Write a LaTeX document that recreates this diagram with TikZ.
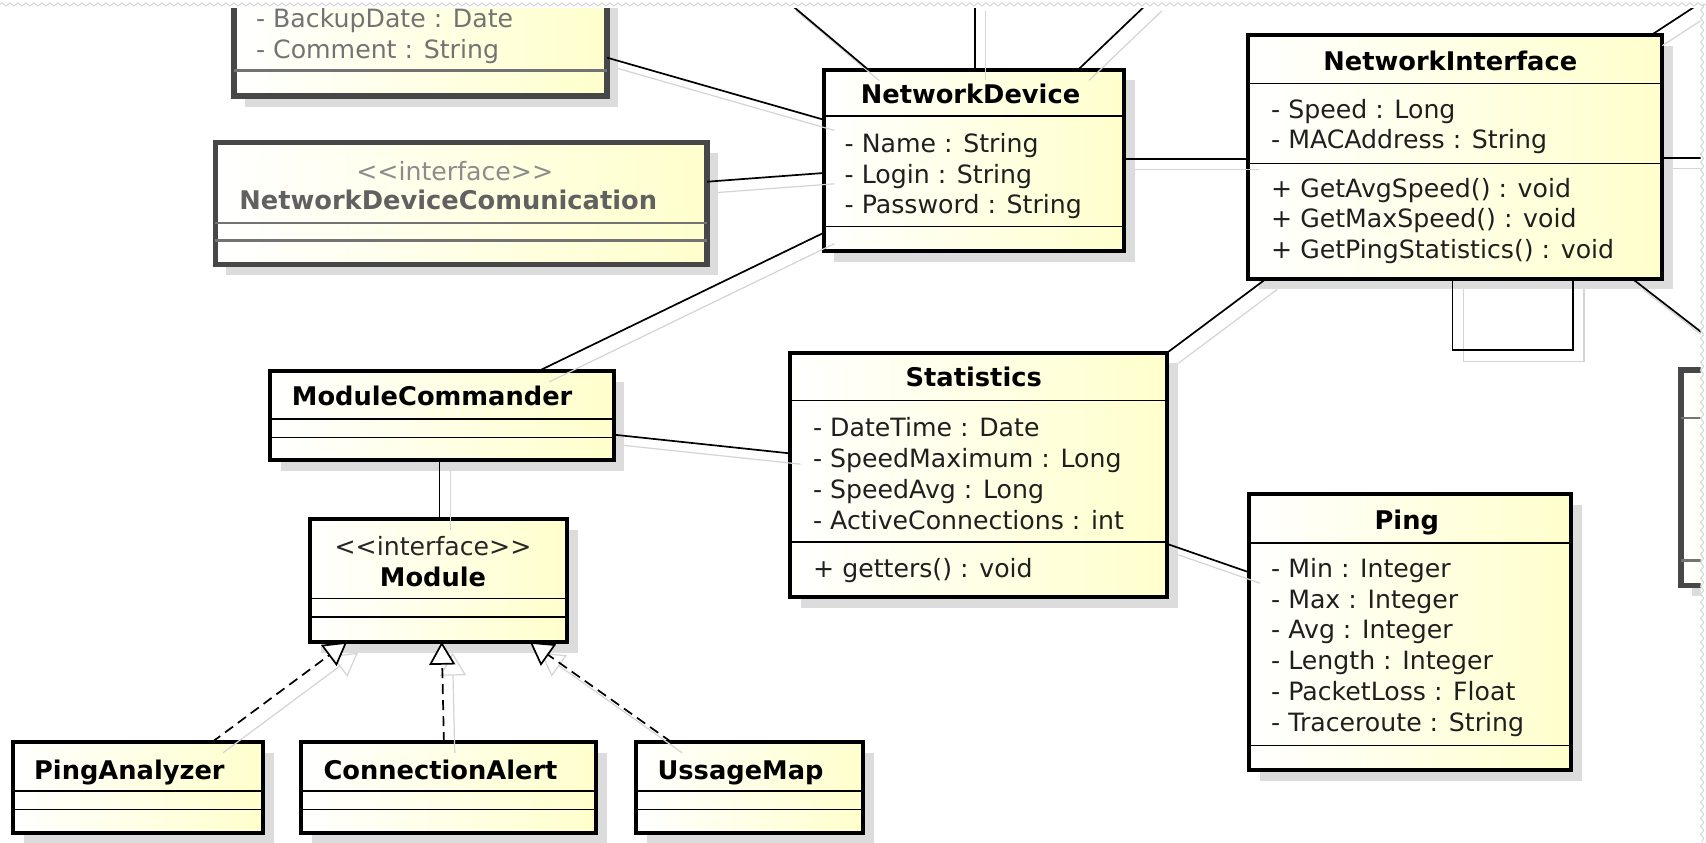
\documentclass[tikz,border=0pt]{standalone}
\usepackage{fontspec}
\setmainfont{DejaVu Sans}
\usetikzlibrary{arrows.meta,fit,shadows,decorations.pathmorphing}
\definecolor{boxyel}{RGB}{255,255,204}
\definecolor{boxshad}{RGB}{220,220,220}
\definecolor{linshad}{RGB}{212,212,212}
\definecolor{tornedge}{RGB}{214,214,214}
\newcommand{\bodyfont}{\fontsize{12.6}{15}\selectfont}
\newcommand{\titfont}{\bfseries\fontsize{12.85}{15}\selectfont}
\tikzset{
  umlbox/.style={draw=black, line width=2pt, inner sep=0pt, outer sep=0pt,
     left color=white, right color=boxyel,
     drop shadow={shadow xshift=5.4pt, shadow yshift=-5.4pt, fill=boxshad, opacity=1}},
  blurbox/.style={umlbox, draw=black!72, line width=2.8pt},
  sepline/.style={line width=0.7pt, draw=black},
  blursep/.style={line width=1.3pt, draw=black!55},
  attr/.style={anchor=base west, inner sep=0pt, font=\bodyfont, text=black!88},
  ttl/.style={anchor=base, inner sep=0pt, font=\titfont},
  ttlleft/.style={anchor=base west, inner sep=0pt, font=\titfont},
  stereo/.style={anchor=base, inner sep=0pt, font=\bodyfont, text=black!85},
  blurtxt/.style={text=black!55},
  assoc/.style={draw=black, line width=0.85pt},
  realize/.style={draw=black, line width=0.85pt, dash pattern=on 5pt off 3pt,
     -{Triangle[length=11.4pt, width=13pt, fill=white]}},
  shadowline/.style={draw=linshad, line width=0.6pt, solid,
     transform canvas={xshift=5.4pt, yshift=-5.4pt}},
}
\newcommand{\conn}[2]{\draw[#1,shadowline] #2; \draw[#1] #2;}
\newcommand{\hsep}[3][sepline]{\draw[#1] (#2.west |- 0,#3) -- (#2.east |- 0,#3);}
\begin{document}
\begin{tikzpicture}[x=0.544pt, y=-0.544pt]
\useasboundingbox (0,0) rectangle (1568,774);
\fill[white] (0,0) rectangle (1568,774);
\begin{scope}
\clip (0,7.5) rectangle (1563,774);

% ---------- boxes ----------
\node[blurbox, fit={(215,-40) (558,88)}] (bk) {};
\node[blurbox, fit={(198,131) (650,243)}] (ndc) {};
\node[umlbox, fit={(757,64) (1033,231)}] (nd) {};
\node[umlbox, fit={(1147,32) (1528,256)}] (ni) {};
\node[umlbox, fit={(726,324) (1073,549)}] (st) {};
\node[umlbox, fit={(1148,454) (1444,708)}] (pi) {};
\node[umlbox, fit={(248,341) (564,423)}] (mc) {};
\node[umlbox, fit={(285,477) (521,590)}] (mo) {};
\node[umlbox, fit={(12,682) (242,766)}] (pa) {};
\node[umlbox, fit={(277,682) (548,766)}] (ca) {};
\node[umlbox, fit={(585,682) (793,766)}] (um) {};
\node[blurbox, fit={(1545,340) (1660,538)}] (rc) {};

% ---------- compartment lines ----------
\hsep[blursep]{bk}{65}
\hsep[blursep]{ndc}{205}
\hsep[blursep]{ndc}{221}
\hsep{nd}{106.5}
\hsep{nd}{208}
\hsep{ni}{77}
\hsep{ni}{150}
\hsep{st}{368}
\hsep{st}{498}
\hsep{pi}{499}
\hsep{pi}{685}
\hsep{mc}{385}
\hsep{mc}{402}
\hsep{mo}{550}
\hsep{mo}{567}
\hsep{pa}{727}
\hsep{pa}{744}
\hsep{ca}{727}
\hsep{ca}{744}
\hsep{um}{727}
\hsep{um}{744}
\hsep[blursep]{rc}{384}
\hsep[blursep]{rc}{515}

% ---------- texts ----------
\node[attr, blurtxt] (bk1) at (235,25.5) {- BackupDate : Date};
\node[attr, blurtxt] (bk2) at (235,53.5) {- Comment : String};

\node[stereo, text=black!45] (ndcs) at (418,166) {<\kern0pt<interface>\kern0pt>};
\node[ttl, text=black!62] (ndct) at (412,192.5) {NetworkDeviceComunication};

\node[ttl] (ndt) at (892,95.5) {NetworkDevice};
\node[attr] (nd1) at (776,140.5) {- Name : String};
\node[attr] (nd2) at (776,168.5) {- Login : String};
\node[attr] (nd3) at (776,196.5) {- Password : String};

\node[ttl] (nit) at (1333,64.5) {NetworkInterface};
\node[attr] (ni1) at (1168,108.5) {- Speed : Long};
\node[attr] (ni2) at (1168,136.5) {- MACAddress : String};
\node[attr] (ni3) at (1168,181.5) {+ GetAvgSpeed() : void};
\node[attr] (ni4) at (1168,209.5) {+ GetMaxSpeed() : void};
\node[attr] (ni5) at (1168,237.5) {+ GetPingStatistics() : void};

\node[ttl] (stt) at (895,355.5) {Statistics};
\node[attr] (st1) at (747,401.5) {- DateTime : Date};
\node[attr] (st2) at (747,429.9) {- SpeedMaximum : Long};
\node[attr] (st3) at (747,458.3) {- SpeedAvg : Long};
\node[attr] (st4) at (747,486.7) {- ActiveConnections : int};
\node[attr] (st5) at (747,530.5) {+ getters() : void};

\node[ttl] (pit) at (1293,486.5) {Ping};
\node[attr] (pi1) at (1168,530.5) {- Min : Integer};
\node[attr] (pi2) at (1168,558.9) {- Max : Integer};
\node[attr] (pi3) at (1168,587.3) {- Avg : Integer};
\node[attr] (pi4) at (1168,615.7) {- Length : Integer};
\node[attr] (pi5) at (1168,644.1) {- PacketLoss : Float};
\node[attr] (pi6) at (1168,672.5) {- Traceroute : String};

\node[ttlleft] (mct) at (268,372.5) {ModuleCommander};
\node[stereo] (mos) at (398,511) {<\kern0pt<interface>\kern0pt>};
\node[ttl] (mot) at (398,539) {Module};
\node[ttlleft] (pat) at (31,716) {PingAnalyzer};
\node[ttlleft] (cat) at (297,716) {ConnectionAlert};
\node[ttlleft] (umt) at (604,716) {UssageMap};

% ---------- free ends ----------
\coordinate (top1) at (722,0);
\coordinate (top2) at (896,0);
\coordinate (top3) at (1058,0);
\coordinate (topr) at (1567,0);
\coordinate (rightni) at (1575,145);
\coordinate (rightlow) at (1575,314);

% ---------- connectors ----------
\conn{assoc}{(bk.east |- 0,53) -- (nd.west |- 0,110)}
\conn{assoc}{(ndc.east |- 0,167) -- (nd.west |- 0,159)}
\conn{assoc}{(nd.west |- 0,214) -- (495,0 |- mc.north)}
\conn{assoc}{(798,0 |- nd.north) -- (top1)}
\conn{assoc}{(896,0 |- nd.north) -- (top2)}
\conn{assoc}{(991,0 |- nd.north) -- (top3)}
\conn{assoc}{(nd.east |- 0,146) -- (ni.west |- 0,146)}
\conn{assoc}{(1518,0 |- ni.north) -- (topr)}
\conn{assoc}{(ni.east |- 0,145) -- (rightni)}
\conn{assoc}{(1164,0 |- ni.south) -- (st.north east)}
\conn{assoc}{(1335,0 |- ni.south) -- (1335,322) -- (1446,322) -- (1446,0 |- ni.south)}
\conn{assoc}{(1500,0 |- ni.south) -- (rightlow)}
\conn{assoc}{(mc.east |- 0,399.5) -- (st.west |- 0,416.7)}
\conn{assoc}{(404,0 |- mc.south) -- (404,0 |- mo.north)}
\conn{assoc}{(st.east |- 0,500) -- (pi.west |- 0,526)}
\conn{realize}{(195,0 |- pa.north) -- (319,0 |- mo.south)}
\conn{realize}{(408,0 |- ca.north) -- (406,0 |- mo.south)}
\conn{realize}{(617,0 |- um.north) -- (487,0 |- mo.south)}
\end{scope}

% ---------- torn edges ----------
\draw[tornedge, line width=0.5pt, decorate, decoration={zigzag, segment length=4pt, amplitude=0.8pt}] (0,4) -- (1568,4);
\draw[tornedge, line width=0.5pt, decorate, decoration={zigzag, segment length=4pt, amplitude=0.8pt}] (1564.5,4) -- (1564.5,774);
\end{tikzpicture}
\end{document}
